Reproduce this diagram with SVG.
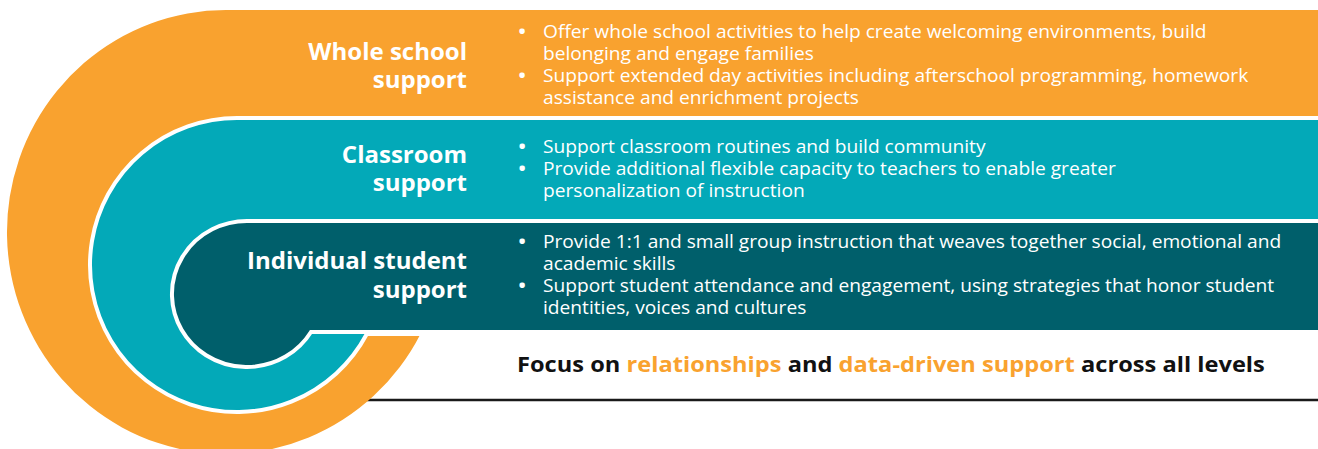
<svg xmlns="http://www.w3.org/2000/svg" width="1318" height="449" viewBox="0 0 1318 449">
<style>
.lbl{font-family:"Open Sans","Liberation Sans",sans-serif;font-weight:700;font-size:24px;fill:#fff;text-anchor:end}
.bl{font-family:"Open Sans","Liberation Sans",sans-serif;font-weight:400;font-size:18px;fill:#fff}
.dot{font-weight:700}
.ft{font-family:"Open Sans","Liberation Sans",sans-serif;font-weight:700;font-size:22px;fill:#111}
.hl{fill:#F9A22F}
.band{stroke:#fff;stroke-width:4}
</style>
<rect width="1318" height="449" fill="#fff"/>
<line x1="340" y1="400" x2="1318" y2="400" stroke="#1a1a1a" stroke-width="2.5"/>
<g id="whole-school">
<path d="M226,10 H1330 V334 H420.5 A219,222 0 1 1 226,10 Z" fill="#F9A22F"/>
<text class="lbl"><tspan x="467" y="60">Whole school</tspan><tspan x="467" y="88">support</tspan></text>
<text class="bl" transform="translate(543,0) scale(1.065,1)"><tspan class="dot" x="-23" y="38">•</tspan><tspan x="0" y="38">Offer whole school activities to help create welcoming environments, build</tspan><tspan x="0" y="60">belonging and engage families</tspan><tspan class="dot" x="-23" y="82">•</tspan><tspan x="0" y="82">Support extended day activities including afterschool programming, homework</tspan><tspan x="0" y="104">assistance and enrichment projects</tspan></text>
</g>
<g id="classroom">
<path class="band" d="M237,118 H1330 V334 H366.8 A147,147 0 1 1 237,118 Z" fill="#03A9B8"/>
<text class="lbl"><tspan x="467" y="163">Classroom</tspan><tspan x="467" y="191">support</tspan></text>
<text class="bl" transform="translate(543,0) scale(1.065,1)"><tspan class="dot" x="-23" y="153">•</tspan><tspan x="0" y="153">Support classroom routines and build community</tspan><tspan class="dot" x="-23" y="175">•</tspan><tspan x="0" y="175">Provide additional flexible capacity to teachers to enable greater</tspan><tspan x="0" y="197">personalization of instruction</tspan></text>
</g>
<g id="individual">
<path class="band" d="M247,221 H1330 V332 H311 A75,73 0 1 1 247,221 Z" fill="#005F6B"/>
<text class="lbl"><tspan x="467" y="269">Individual student</tspan><tspan x="467" y="298">support</tspan></text>
<text class="bl" transform="translate(543,0) scale(1.065,1)"><tspan class="dot" x="-23" y="248">•</tspan><tspan x="0" y="248">Provide 1:1 and small group instruction that weaves together social, emotional and</tspan><tspan x="0" y="270">academic skills</tspan><tspan class="dot" x="-23" y="292.5">•</tspan><tspan x="0" y="292.5">Support student attendance and engagement, using strategies that honor student</tspan><tspan x="0" y="314.5">identities, voices and cultures</tspan></text>
</g>
<g id="focus">
<text class="ft" transform="translate(517,372) scale(1.075,1)" x="0" y="0">Focus on <tspan class="hl">relationships</tspan> and <tspan class="hl">data-driven support</tspan> across all levels</text>
</g>
</svg>
